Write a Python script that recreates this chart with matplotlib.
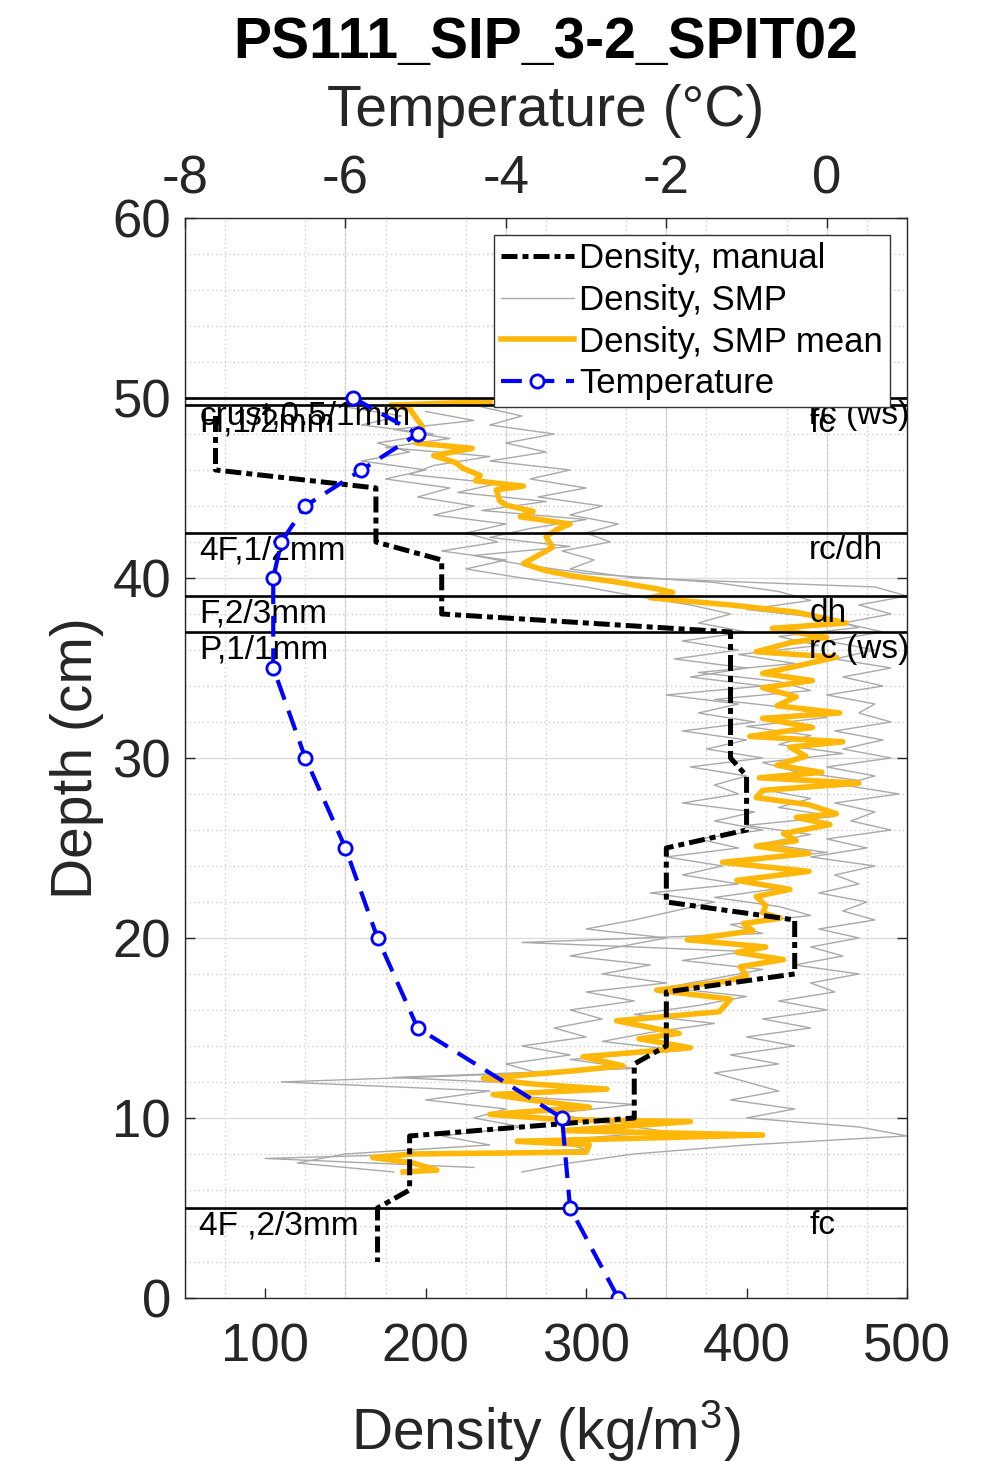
import numpy as np
import matplotlib
matplotlib.use("Agg")
import matplotlib.pyplot as plt
from matplotlib.ticker import MultipleLocator

plt.rcParams["font.family"] = ["Liberation Sans", "DejaVu Sans"]
plt.rcParams["mathtext.fontset"] = "custom"
plt.rcParams["mathtext.rm"] = "Liberation Sans"
plt.rcParams["mathtext.it"] = "Liberation Sans:italic"
plt.rcParams["axes.unicode_minus"] = False

# manual density (cutter), step profile
man_depth = [49, 46, 45, 42, 41, 38, 37, 30, 29, 26, 25, 22, 21, 18, 17, 14, 13, 10, 9, 6, 5, 2]
man_dens = [69, 69, 169, 169, 210, 210, 390, 390, 400, 400, 350, 350, 430, 430, 350, 350,
            330, 330, 190, 190, 170, 170]

# temperature profile
temp_depth = [50, 48, 46, 44, 42, 40, 35, 30, 25, 20, 15, 10, 5, 0]
temp_val = [-5.9, -5.1, -5.8, -6.5, -6.8, -6.9, -6.9, -6.5, -6.0, -5.6, -5.1, -3.3, -3.2, -2.6]

# SMP individual profiles
smp_depth = [49.5, 49.0, 48.5, 48.0, 47.5, 47.0, 46.5, 46.0, 45.5, 45.0, 44.5, 44.0, 43.5, 43.0,
             42.5, 42.0, 41.5, 41.0, 40.5, 40.0, 39.5, 39.0, 38.5, 38.0, 37.5, 37.0, 36.5, 36.0,
             35.5, 35.0, 34.5, 34.0, 33.5, 33.0, 32.5, 32.0, 31.5, 31.0, 30.5, 30.0, 29.5, 29.0,
             28.5, 28.0, 27.5, 27.0, 26.5, 26.0, 25.5, 25.0, 24.5, 24.0, 23.5, 23.0, 22.5, 22.0,
             21.5, 21.0, 20.5, 20.0, 19.5, 19.0, 18.5, 18.0, 17.5, 17.0, 16.5, 16.0, 15.5, 15.0,
             14.5, 14.0, 13.5, 13.0, 12.5, 12.0, 11.5, 11.0, 10.5, 10.0, 9.5, 9.0, 8.5, 8.0,
             7.5, 7.0]
smp_a = [150, 185, 160, 205, 170, 190, 160, 200, 175, 215, 195, 230, 205, 250,
         225, 245, 210, 250, 225, 260, 300, 330, 365, 390, 370, 400, 360, 395,
         355, 400, 365, 410, 350, 395, 370, 405, 360, 400, 375, 410, 365, 400,
         380, 395, 360, 405, 380, 410, 370, 395, 350, 385, 360, 395, 340, 380,
         355, 330, 300, 350, 320, 290, 340, 310, 350, 300, 330, 290, 310, 280,
         300, 260, 290, 250, 270, 110, 240, 200, 250, 230, 260, 210, 240, 150,
         120, 180]
smp_b = [235, 260, 240, 280, 250, 275, 240, 290, 265, 300, 270, 310, 290, 320,
         300, 315, 285, 305, 290, 330, 480, 500, 470, 490, 460, 485, 450, 480,
         455, 490, 460, 485, 450, 480, 470, 490, 455, 485, 460, 490, 450, 480,
         460, 495, 455, 480, 465, 490, 450, 475, 440, 480, 455, 470, 445, 475,
         460, 480, 445, 470, 440, 460, 430, 470, 440, 455, 420, 450, 410, 440,
         400, 430, 390, 420, 380, 400, 420, 390, 430, 400, 470, 500, 400, 330,
         290, 260]
smp_c_depth = [49.25, 48.75, 48.25, 47.75, 47.25, 46.75, 46.25, 45.75, 45.25, 44.75, 44.25,
               43.75, 43.25, 42.75, 42.25, 41.75, 41.25, 40.75, 40.25, 39.75, 39.25, 38.75,
               38.25, 37.75, 37.25, 36.75, 36.25, 35.75, 35.25, 34.75, 34.25, 33.75, 33.25,
               32.75, 32.25, 31.75, 31.25, 30.75, 30.25, 29.75, 29.25, 28.75, 28.25, 27.75,
               27.25, 26.75, 26.25, 25.75, 25.25, 24.75, 24.25, 23.75, 23.25, 22.75, 22.25,
               21.75, 21.25, 20.75, 20.25, 19.75, 19.25, 18.75, 18.25, 17.75, 17.25, 16.75,
               16.25, 15.75, 15.25, 14.75, 14.25, 13.75, 13.25, 12.75, 12.25, 11.75, 11.25,
               10.75, 10.25, 9.75, 9.25, 8.75, 8.25, 7.75, 7.25]
smp_c = [200, 230, 180, 215, 175, 240, 205, 190, 245, 220, 275,
         235, 300, 265, 240, 290, 230, 260, 300, 380, 420, 440,
         400, 450, 470, 420, 445, 395, 430, 370, 420, 440, 380,
         430, 450, 400, 440, 420, 460, 410, 430, 470, 410, 440,
         420, 455, 400, 440, 410, 450, 390, 430, 400, 420, 380,
         420, 440, 390, 410, 260, 400, 360, 410, 380, 350, 400,
         370, 330, 380, 340, 310, 360, 290, 330, 180, 300, 250,
         330, 280, 310, 350, 280, 300, 100, 230]

# SMP mean
mean_depth = [49.8, 49.6, 49.4, 48.4, 47.5, 47.2, 46.8, 46.4, 46.1, 45.7, 45.4, 45.1, 44.9,
              44.3, 44.05, 43.7, 43.4, 43.0, 42.7, 42.3, 41.7, 41.4, 40.8, 40.4, 40.1, 39.8,
              39.4, 39.2, 38.9, 38.5, 38.1, 37.5, 37.2, 36.7, 36.4, 35.9, 35.6, 35.1, 34.7,
              34.3, 33.9, 33.4, 32.9, 32.5, 32.2, 31.7, 31.2, 30.9, 30.6, 30.1, 29.6, 29.2,
              28.9, 28.6, 28.2, 27.8, 27.4, 26.9, 26.7, 26.3, 25.8, 25.4, 25.1, 24.7, 24.2,
              23.7, 23.2, 22.7, 22.3, 21.8, 21.4, 21.1, 20.8, 20.4, 19.9, 19.5, 19.2, 18.8,
              18.4, 17.9, 17.6, 17.1, 16.6, 15.9, 15.4, 14.7, 14.4, 13.9, 13.4, 12.9, 12.6,
              12.2, 11.9, 11.6, 11.3, 11.0, 10.6, 10.2, 9.9, 9.8, 9.3, 9.05, 8.7, 8.5, 8.1,
              8.0, 7.8, 7.5, 7.1, 7.0]
mean_dens = [240, 178, 190, 198, 194, 229, 205, 219, 223, 234, 231, 261, 244,
             246, 250, 267, 259, 290, 282, 275, 279, 273, 261, 275, 292, 317,
             344, 354, 340, 390, 431, 462, 416, 450, 427, 406, 456, 431, 410,
             441, 410, 431, 419, 458, 410, 441, 402, 460, 427, 437, 419, 447,
             408, 470, 410, 406, 439, 456, 431, 452, 423, 431, 406, 439, 385,
             439, 394, 427, 406, 412, 410, 421, 398, 404, 363, 412, 394, 423,
             396, 400, 388, 344, 390, 383, 319, 358, 333, 365, 298, 323, 290,
             236, 265, 313, 242, 265, 302, 240, 286, 365, 286, 410, 257, 302, 300,
             192, 167, 192, 207, 186]

# stratigraphy
layer_tops = [50.0, 49.6, 42.5, 39.0, 37.0, 5.0]
layer_left = ["crust,0.5/1mm", "H,1/2mm", "4F,1/2mm", "F,2/3mm", "P,1/1mm", "4F ,2/3mm"]
layer_right = ["rc (ws)", "fc", "rc/dh", "dh", "rc (ws)", "fc"]

temp_ticks = [-8, -6, -4, -2, 0]
dens_ticks = [100, 200, 300, 400, 500]

grid_c = "#dcdcdc"
fig = plt.figure(figsize=(10, 14.61), dpi=100)
ax = fig.add_axes([0.185, 0.1116, 0.722, 0.7392])
ax.set_xlim(50, 500)
ax.set_ylim(0, 60)

# grid
ax.xaxis.set_minor_locator(MultipleLocator(25))
ax.yaxis.set_minor_locator(MultipleLocator(2))
ax.grid(which="minor", axis="both", color="#c8c8c8", ls=(0, (1, 2.5)), lw=0.9)
ax.grid(which="major", axis="y", color=grid_c, ls="-", lw=1.0)
for t in temp_ticks:
    ax.axvline(50 + (t + 8) * 50, color=grid_c, lw=1.0, zorder=0.5)
ax.set_axisbelow(True)

h_smp = None
for dep, den in [(smp_depth, smp_a), (smp_depth, smp_b), (smp_c_depth, smp_c)]:
    h_smp, = ax.plot(den, dep, color="#a9a9a9", lw=1.0, zorder=2)
h_mean, = ax.plot(mean_dens, mean_depth, color="#ffb80a", lw=4.0, zorder=3)
h_man, = ax.plot(man_dens, man_depth, color="k", lw=3.6, ls=(0, (3.2, 1.0, 1.2, 1.0)), zorder=4)

for y in layer_tops:
    ax.axhline(y, color="k", lw=1.9, zorder=5)
for y, lt, rt in zip(layer_tops, layer_left, layer_right):
    ax.text(59, y - 1, lt, fontsize=24, va="center", ha="left", zorder=6)
    ax.text(439, y - 1, rt, fontsize=24, va="center", ha="left", zorder=6)

ax.set_xticks(dens_ticks)
ax.set_yticks(range(0, 61, 10))
ax.tick_params(which="major", direction="in", length=7, width=1, labelsize=38,
               colors="#262626", right=True)
ax.tick_params(axis="x", pad=18)
ax.tick_params(axis="y", pad=10)
ax.tick_params(which="minor", length=0)
ax.set_xlabel("Density (kg/m$^3$)", fontsize=41, color="#262626", labelpad=18)
ax.set_ylabel("Depth (cm)", fontsize=41, color="#262626", labelpad=6)
for s in ax.spines.values():
    s.set_color("#262626")
    s.set_linewidth(1.0)

ax2 = ax.twiny()
ax2.set_xlim(-8, 1)
ax2.set_ylim(0, 60)
h_temp, = ax2.plot(temp_val, temp_depth, color="#0000ff", lw=3.0, ls=(0, (5, 2.8)),
                   marker="o", ms=9.5, mfc="white", mew=2.0, zorder=7)
ax2.set_xticks(temp_ticks)
ax2.tick_params(direction="in", length=7, width=1, labelsize=38, colors="#262626", pad=10)
ax2.set_xlabel("Temperature (\u00b0C)", fontsize=41, color="#262626", labelpad=20)
for s in ax2.spines.values():
    s.set_visible(False)
ax2.set_title("PS111_SIP_3-2_SPIT02", fontsize=41, fontweight="bold", pad=19)

leg = ax2.legend([h_man, h_smp, h_mean, h_temp],
                 ["Density, manual", "Density, SMP", "Density, SMP mean", "Temperature"],
                 loc="upper right", fontsize=25, frameon=True, fancybox=False,
                 framealpha=1, edgecolor="#333333", borderaxespad=0.5,
                 handlelength=2.1, handletextpad=0.15, labelspacing=0.25,
                 borderpad=0.2)
leg.get_frame().set_linewidth(1.0)
leg.set_zorder(20)

fig.savefig("out.png", dpi=100)
